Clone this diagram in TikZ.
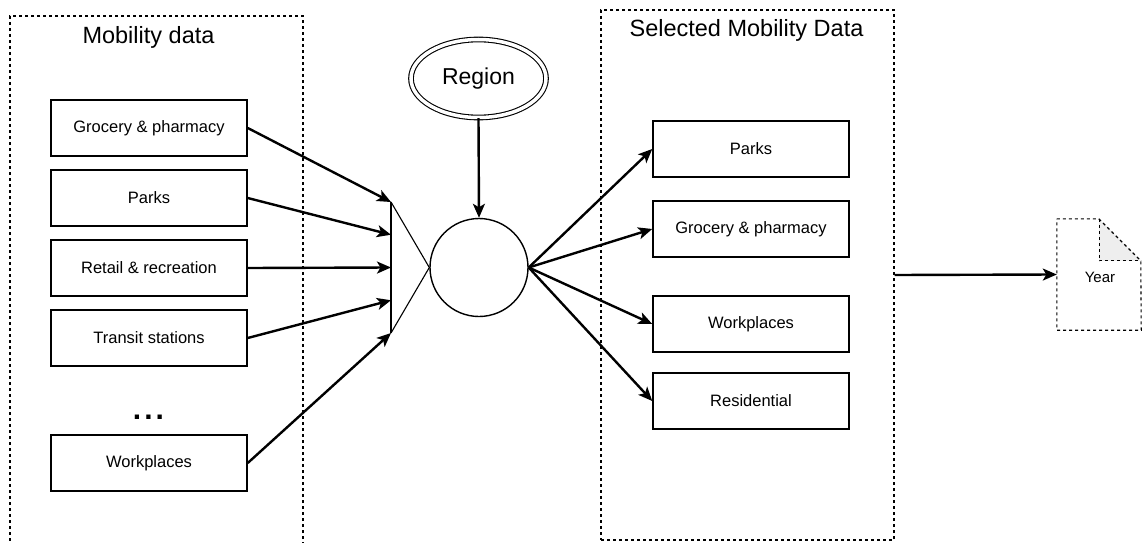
\documentclass[tikz,border=0pt]{standalone}
\usepackage{fontspec}
\setmainfont{Liberation Sans}
\usetikzlibrary{arrows.meta,shapes.geometric}
\begin{document}
\begin{tikzpicture}[x=1pt,y=-1pt,
  catbox/.style={draw,line width=1.5pt,minimum width=196pt,minimum height=56pt,inner sep=0pt,
    font=\fontsize{16.5}{20}\selectfont},
  group/.style={draw,dashed,dash pattern=on 3pt off 3pt,line width=1.1pt,inner sep=0pt},
  grouptitle/.style={font=\fontsize{23.5}{28}\selectfont},
  flow/.style={line width=2.4pt,-{Stealth[length=14pt,width=12pt,inset=3.5pt]}},
  thin/.style={line width=1.1pt}]
\useasboundingbox (0,0) rectangle (1143,543);
\clip (0,0) rectangle (1143,543);

% dashed groups
\node[group,minimum width=293pt,minimum height=560pt] (mob) at (156.5,296) {};
\node[group,minimum width=293pt,minimum height=530pt] (sel) at (747.5,275) {};
\node[grouptitle] (mobt) at (148.5,37) {Mobility data};
\node[grouptitle] (selt) at (746.5,30) {Selected Mobility Data};

% input categories
\node[catbox] (lgro) at (149,128) {Grocery \& pharmacy};
\node[catbox] (lpar) at (149,198) {Parks};
\node[catbox] (lret) at (149,268) {Retail \& recreation};
\node[catbox] (ltra) at (149,338) {Transit stations};
\node[font=\fontsize{30}{30}\selectfont\bfseries,inner sep=0pt,anchor=base] (dots) at (148.5,419) {.\kern3pt.\kern3pt.};
\node[catbox] (lwor) at (149,463) {Workplaces};

% selector: funnel, circle, region
\coordinate (f1) at (391,202);
\coordinate (f2) at (391,234.75);
\coordinate (f3) at (391,267.5);
\coordinate (f4) at (391,300.25);
\coordinate (f5) at (391,333);
\node[draw,circle,line width=1.4pt,minimum size=98pt,inner sep=0pt] (sel0) at (479,267.5) {};
\draw[thin] (f1) -- (f5);
\draw[thin] (f1) -- (sel0.west) -- (f5);
\node[draw,ellipse,line width=1.1pt,double,double distance=3.5pt,minimum width=135pt,minimum height=78pt,
  inner sep=0pt,font=\fontsize{23}{28}\selectfont] (region) at (478.5,78.5) {Region};

% output categories
\node[catbox] (rpar) at (751,149) {Parks};
\node[catbox] (rgro) at (751,229) {Grocery \& pharmacy};
\node[catbox] (rwor) at (751,324) {Workplaces};
\node[catbox] (rres) at (751,401) {Residential};

% year document
\node[minimum width=84pt,minimum height=111pt,inner sep=0pt] (year) at (1099,274.5) {};
\node[font=\fontsize{15}{18}\selectfont] (yeart) at (1100,277) {Year};
\fill[gray!13] (year.north east) ++(-42,0) -- ++(0,42) -- ++(42,0) -- cycle;
\draw[group] (year.north west) -- ++(42,0) -- ++(42,42) -- (year.south east) -- (year.south west) -- cycle;
\draw[group] (year.north east) ++(-42,0) -- ++(0,42) -- ++(42,0);

% connectors
\draw[flow] (lgro.east) -- (f1);
\draw[flow] (lpar.east) -- (f2);
\draw[flow] (lret.east) -- (f3);
\draw[flow] (ltra.east) -- (f4);
\draw[flow] (lwor.east) -- (f5);
\draw[flow] (region.south) -- (sel0.north);
\draw[flow] (sel0.east) -- (rpar.west);
\draw[flow] (sel0.east) -- (rgro.west);
\draw[flow] (sel0.east) -- (rwor.west);
\draw[flow] (sel0.east) -- (rres.west);
\draw[flow] (sel.east) -- (year.west);
\end{tikzpicture}
\end{document}
